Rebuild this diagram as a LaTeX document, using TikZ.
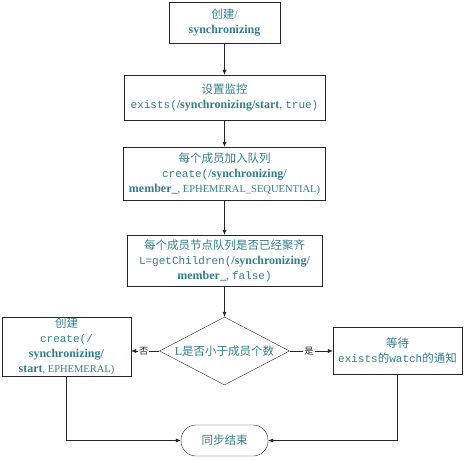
\documentclass[tikz,border=0pt]{standalone}
\usepackage{fontspec}
\setmainfont[Scale=1.2]{Liberation Serif}
\setmonofont[Scale=1.1]{Liberation Mono}
\newfontfamily\cjk[Scale=1.15]{Noto Sans CJK SC}
\newfontfamily\plainserif[Scale=1.05]{Liberation Serif}
\usetikzlibrary{arrows.meta,shapes.geometric}
\definecolor{tealtext}{RGB}{49,125,140}

\begin{document}
\begin{tikzpicture}[x=1pt,y=-1pt,
  procbox/.style={draw=black!85, align=center, inner sep=1pt, text=tealtext, font=\fontsize{10}{15}\selectfont},
  decbox/.style={draw=black!85, diamond, aspect=1.9, inner sep=0pt, minimum width=130pt, minimum height=68pt, text=tealtext, font=\fontsize{10}{15}\selectfont},
  endbox/.style={draw=black!85, rounded corners=15pt, minimum width=87pt, minimum height=31pt, text=tealtext, font=\fontsize{10}{15}\selectfont},
  branchlabel/.style={fill=white, inner sep=1pt, font=\fontsize{8}{10}\selectfont},
  arrow/.style={-{Latex[length=5pt,width=4pt]}, black!85}
]
\useasboundingbox (0,0) rectangle (466,460);

\node[procbox, minimum width=111pt, minimum height=41pt] (create) at (224.5,22.5)
  {{\cjk 创建}/\\\textbf{synchronizing}};
\node[procbox, minimum width=201pt, minimum height=45pt] (watch) at (224.5,97.5)
  {{\cjk 设置监控}\\\texttt{exists(}\textbf{/synchronizing/start}, \texttt{true)}};
\node[procbox, minimum width=202pt, minimum height=53pt] (join) at (224.5,173.5)
  {{\cjk 每个成员加入队列}\\\texttt{create(}\textbf{/synchronizing/}\\\textbf{member\_}{\plainserif, EPHEMERAL\_SEQUENTIAL)}};
\node[procbox, minimum width=195pt, minimum height=51pt] (check) at (224.5,260.5)
  {{\cjk 每个成员节点队列是否已经聚齐}\\\texttt{L=getChildren(}\textbf{/synchronizing/}\\\textbf{member\_}, \texttt{false)}};
\node[decbox] (enough) at (224.5,351) {L{\cjk 是否小于成员个数}};
\node[procbox, minimum width=129pt, minimum height=55pt] (start) at (66.5,346.5)
  {{\cjk 创建}\\\texttt{create(/}\\\textbf{synchronizing/}\\\textbf{start}{\plainserif, EPHEMERAL)}};
\node[procbox, minimum width=129pt, minimum height=47pt] (wait) at (397.5,350.5)
  {{\cjk 等待}\\\texttt{exists}{\cjk 的}\texttt{watch}{\cjk 的通知}};
\node[endbox] (done) at (224.5,440.5) {{\cjk 同步结束}};

\draw[arrow] (create) -- (watch);
\draw[arrow] (watch) -- (join);
\draw[arrow] (join) -- (check);
\draw[arrow] (check) -- (enough);
\draw[arrow] (enough.west) -- node[branchlabel, pos=0.55]{\cjk 否} (start.east |- enough.west);
\draw[arrow] (enough.east) -- node[branchlabel, pos=0.45]{\cjk 是} (wait.west |- enough.east);
\draw[arrow] (start.south) |- (done.west);
\draw[arrow] (wait.south) |- (done.east);
\end{tikzpicture}
\end{document}
